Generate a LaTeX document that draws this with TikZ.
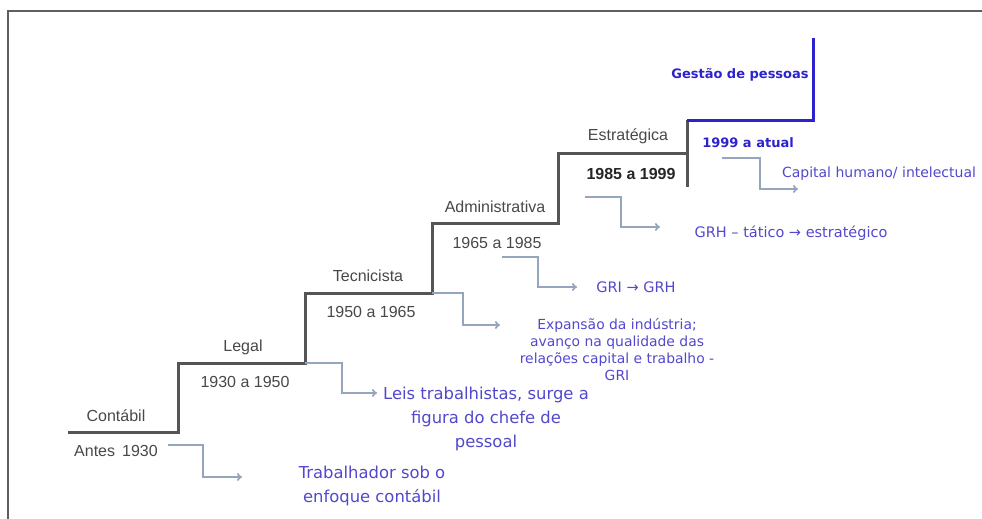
\documentclass[tikz,border=0pt]{standalone}
\usepackage{fontspec}
\setmainfont{Liberation Sans}
\newfontfamily\bluefont{DejaVu Sans}
\usepackage{xcolor}
\usepackage{tikz}
\usetikzlibrary{calc,arrows.meta,positioning}
\definecolor{stepgray}{RGB}{85,85,85}
\definecolor{labelgray}{RGB}{72,72,72}
\definecolor{linkgray}{RGB}{150,165,190}
\definecolor{textblue}{RGB}{82,72,205}
\definecolor{stepblue}{RGB}{45,35,205}
\definecolor{framegray}{RGB}{95,95,95}

\tikzset{
  period/.style={inner sep=0pt, text=labelgray, font=\fontsize{16}{19}\selectfont},
  fact/.style={inner sep=0pt, text=textblue, align=center},
  link/.style={draw=linkgray, line width=1.8pt, -{To[length=5pt,width=8pt]}},
}

\begin{document}
\begin{tikzpicture}[x=1pt,y=-1pt]
    \useasboundingbox (0,0) rectangle (982,519);

    % Frame
    \draw[framegray, line width=1.5pt] (8,519) -- (8,11) -- (982,11);

    % Stairs
    \coordinate (s0) at (68,432);
    \coordinate (s1) at (178,432);
    \coordinate (s2) at (178,363);
    \coordinate (s3) at (305,363);
    \coordinate (s4) at (305,293);
    \coordinate (s5) at (432,293);
    \coordinate (s6) at (432,223);
    \coordinate (s7) at (558,223);
    \coordinate (s8) at (558,153);
    \coordinate (s9) at (687,153);
    \coordinate (s10) at (687,187);
    \coordinate (b0) at (687,120);
    \coordinate (b1) at (813,120);
    \coordinate (b2) at (813,38);
    \draw[stepgray, line width=3pt] (s0) -- (s1) -- (s2) -- (s3) -- (s4) -- (s5) -- (s6) -- (s7) -- (s8) -- (s9);
    \draw[stepgray, line width=3pt] (s10) -- (b0);
    \draw[stepblue, line width=3pt] (b0) -- (b1) -- (b2);

    % Stage labels
    \node[period] (contabil) at (116,416) {Contábil};
    \node[period] (antes) at (116,451) {Antes\, 1930};
    \node[period] (legal) at (243,347) {Legal};
    \node[period] (legaly) at (245,382) {1930 a 1950};
    \node[period] (tecn) at (368,276) {Tecnicista};
    \node[period] (tecny) at (371,312) {1950 a 1965};
    \node[period] (admin) at (495,207) {Administrativa};
    \node[period] (adminy) at (497,243) {1965 a 1985};
    \node[period] (estr) at (628,136) {Estratégica};
    \node[period, text=black!85, font=\bfseries\fontsize{16}{19}\selectfont] (estry) at (631,174) {1985 a 1999};
    \node[inner sep=0pt, text=stepblue, font=\bluefont\bfseries\fontsize{13}{16}\selectfont] (gestao) at (740,75) {Gestão de pessoas};
    \node[inner sep=0pt, text=stepblue, font=\bluefont\bfseries\fontsize{13}{16}\selectfont] (gestaoy) at (748,143) {1999 a atual};

    % Facts
    \node[fact, font=\bluefont\fontsize{16.4}{23.5}\selectfont] (trab) at (372,486) {Trabalhador sob o\\enfoque contábil};
    \node[fact, font=\bluefont\fontsize{16.4}{24}\selectfont] (leis) at (486,419) {Leis trabalhistas, surge a\\figura do chefe de\\pessoal};
    \node[fact, font=\bluefont\fontsize{13.9}{17}\selectfont] (expa) at (617,350) {Expansão da indústria;\\avanço na qualidade das\\relações capital e trabalho -\\GRI};
    \node[fact, font=\bluefont\fontsize{14.5}{17}\selectfont] (gri) at (636,287) {GRI → GRH};
    \node[fact, font=\bluefont\fontsize{14.5}{17}\selectfont] (grh) at (791,233) {GRH – tático → estratégico};
    \node[fact, font=\bluefont\fontsize{14}{17}\selectfont] (capital) at (879,174) {Capital humano/ intelectual};

    % Links
    \coordinate (l1) at (168,445);
    \coordinate (t1) at (242,477);
    \coordinate (t2) at (377,393);
    \coordinate (t3) at (500,325);
    \coordinate (l4) at (502,257);
    \coordinate (t4) at (577,287);
    \coordinate (l5) at (585,197);
    \coordinate (t5) at (660,227);
    \coordinate (l6) at (722,158);
    \coordinate (t6) at (798,189);
    \draw[link] (l1) -- ++(35,0) |- (t1);
    \draw[link] (s3) -- ++(37,0) |- (t2);
    \draw[link] (s5) -- ++(31,0) |- (t3);
    \draw[link] (l4) -- ++(36,0) |- (t4);
    \draw[link] (l5) -- ++(36,0) |- (t5);
    \draw[link] (l6) -- ++(38,0) |- (t6);

\end{tikzpicture}
\end{document}
